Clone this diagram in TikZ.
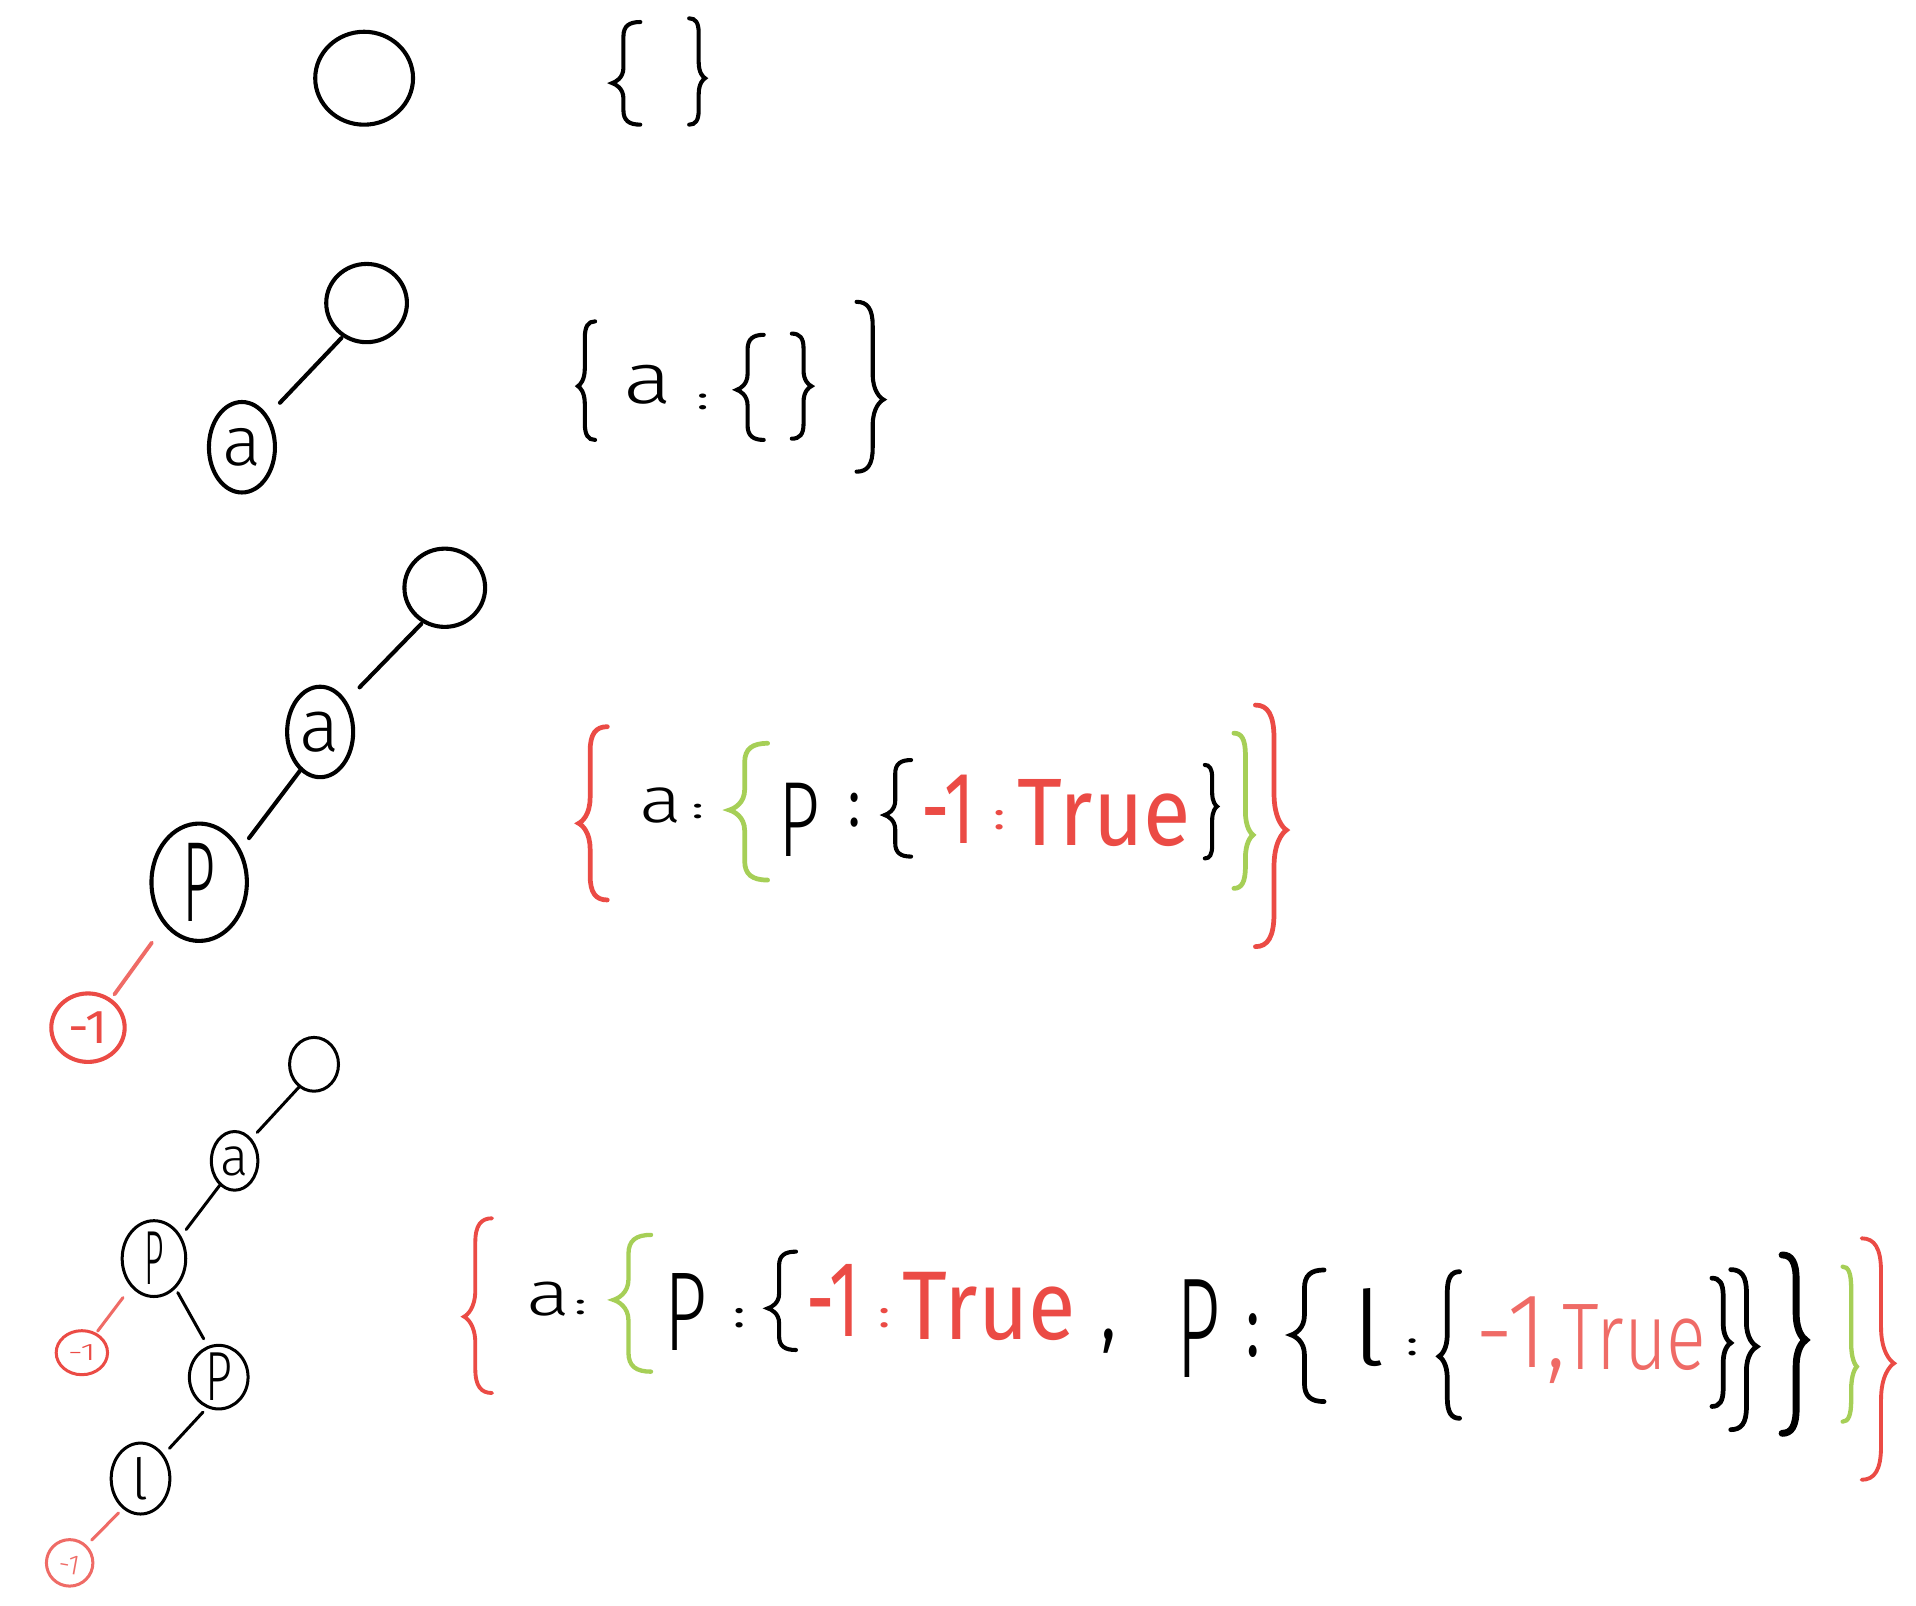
\documentclass[tikz,border=0pt]{standalone}
\usepackage{fontspec}
\setmainfont{Fira Sans Light}
\newfontfamily\rf{Fira Sans}
\usetikzlibrary{shapes.geometric}
\definecolor{hred}{HTML}{EB4B45}
\definecolor{hlred}{HTML}{EF6B66}
\definecolor{hgreen}{HTML}{A6CF57}
\newlength\pxu \setlength\pxu{0.01cm}
\newcommand\tx[3]{\resizebox*{#1\pxu}{#2\pxu}{#3}}
\newcommand\ctx[3]{\makebox[0pt]{\raisebox{-0.5\height}[0pt][0pt]{\resizebox*{#1\pxu}{#2\pxu}{#3}}}}
% brace: style, tip x, top y, tip y, bottom y, signed width (+ for {, - for })
\newcommand\hbrace[6]{%
 \pgfmathsetmacro\brLen{#5-#3}%
 \pgfmathsetmacro\brXs{#2+0.4*#6}%
 \pgfmathsetmacro\brXc{#2+0.6*#6}%
 \pgfmathsetmacro\brXt{#2+0.12*#6}%
 \pgfmathsetmacro\brXe{#2+#6}%
 \pgfmathsetmacro\brYa{#3+0.04*\brLen}%
 \pgfmathsetmacro\brYb{#3+0.14*\brLen}%
 \pgfmathsetmacro\brYc{#4-0.15*\brLen}%
 \pgfmathsetmacro\brYd{#4-0.05*\brLen}%
 \pgfmathsetmacro\brYe{#4-0.01*\brLen}%
 \pgfmathsetmacro\brYf{#4+0.01*\brLen}%
 \pgfmathsetmacro\brYg{#4+0.05*\brLen}%
 \pgfmathsetmacro\brYh{#4+0.15*\brLen}%
 \pgfmathsetmacro\brYi{#5-0.14*\brLen}%
 \pgfmathsetmacro\brYj{#5-0.04*\brLen}%
 \draw[#1] (\brXe,#3) .. controls (\brXc,#3) and (\brXs,\brYa) .. (\brXs,\brYb)
   -- (\brXs,\brYc) .. controls (\brXs,\brYd) and (\brXt,\brYe) .. (#2,#4)
   .. controls (\brXt,\brYf) and (\brXs,\brYg) .. (\brXs,\brYh)
   -- (\brXs,\brYi) .. controls (\brXs,\brYj) and (\brXc,#5) .. (\brXe,#5);}
\newcommand\brL[6]{\hbrace{#1}{#2}{#3}{#4}{#5}{#6}}
\newcommand\brR[6]{\hbrace{#1}{#2}{#3}{#4}{#5}{-#6}}
\tikzset{
 tnode/.style={draw, ellipse, inner sep=0pt, outer sep=0pt, line width=0.95pt},
 tnodes/.style={draw, ellipse, inner sep=0pt, outer sep=0pt, line width=0.7pt},
 sz/.style 2 args={minimum width={#1*0.02cm}, minimum height={#2*0.02cm}},
 sh/.style 2 args={shorten <={#1*0.01cm}, shorten >={#2*0.01cm}},
 edge/.style={line width=0.95pt, line cap=round},
 edges/.style={line width=0.7pt, line cap=round},
 redge/.style={line width=0.8pt, line cap=round, hlred},
 txt/.style={inner sep=0pt, outer sep=0pt},
 bk/.style={line width=0.95pt, line cap=round},
 rb/.style={line width=1.1pt, line cap=round, hred},
 gb/.style={line width=1.1pt, line cap=round, hgreen},
}
\begin{document}
\begin{tikzpicture}[x=0.01cm, y=-0.01cm]
\useasboundingbox (0,0) rectangle (1568,1314);
\fill[white] (0,0) rectangle (1568,1314);

% ---------- row 1 ----------
\node[tnode, sz={40}{38}] (r1) at (298,64) {};
\brL{bk}{501}{18}{68}{102}{23}
\brR{bk}{577}{15}{64}{102}{13}

% ---------- row 2 ----------
\node[tnode, sz={33}{32}] (r2) at (300,248) {};
\node[tnode, sz={27}{37}] (a2) at (198,366) {\ctx{32}{31}{a}};
\draw[edge, sh={3}{16}] (r2.235) -- (a2.51);
\brL{bk}{473}{263}{316}{360}{14}
\node[txt] (t2a) at (530.5,315) {\tx{40}{32}{a}};
\node[txt] (t2c) at (575,329) {\tx{10}{13}{\rf :}};
\brL{bk}{603}{274}{319}{360}{22}
\brR{bk}{664}{273}{316}{359}{16}
\brR{bk}{723}{247}{327}{386}{22}

% ---------- row 3 ----------
\node[tnode, sz={33}{32}] (r3) at (364,481) {};
\node[tnode, sz={27}{37}] (a3) at (262,599) {\ctx{33}{33}{a}};
\node[tnode, sz={39}{48}] (p3) at (163,722) {\ctx{27}{64}{P}};
\node[tnode, draw=hred, sz={30}{28}] (m3) at (72,841) {\ctx{32}{26}{\color{hred}\rf -1}};
\draw[edge, sh={3}{17}] (r3.238) -- (a3.50);
\draw[edge, sh={0}{13}] (a3.243) -- (p3.38);
\draw[redge, line width=0.9pt, sh={19}{6}] (p3.231) -- (m3.51);

\brL{rb}{473.6}{594.7}{673.8}{736.5}{23.4}
\node[txt] (t3a) at (541,659.5) {\tx{35}{29}{a}};
\node[txt] (t3c1) at (571,664) {\tx{10}{12}{\rf :}};
\brL{gb}{596.9}{608.3}{662.9}{720.2}{31.3}
\node[txt] (t3p) at (654.5,671) {\tx{34}{60}{P}};
\node[txt] (t3c2) at (699,663) {\tx{10}{28}{\rf :}};
\brL{bk}{724}{622}{667}{701}{21.6}
\node[txt, text=hred] (t3m) at (776,662) {\tx{44}{56}{\rf -1}};
\node[txt, text=hred] (t3c3) at (818,671) {\tx{10}{16}{\rf :}};
\node[txt, text=hred] (t3t) at (903.5,665.5) {\tx{142}{55}{\rf True}};
\brR{bk}{996}{626}{660}{702.5}{10}
\brR{gb}{1025.5}{600}{683.3}{727}{15.7}
\brR{rb}{1052.8}{577}{679.3}{774.7}{25.4}

% ---------- row 4 ----------
\node[tnodes, sz={20}{22}] (r4) at (257,871) {};
\node[tnodes, sz={19}{24}] (a4) at (192,950) {\ctx{23}{24}{a}};
\node[tnodes, sz={26}{31}] (p4a) at (126,1030) {\ctx{16}{43}{P}};
\node[tnodes, draw=hred, sz={21}{18}] (m4a) at (67,1107) {\ctx{23}{13}{\color{hred}-1}};
\node[tnodes, sz={24}{26}] (p4b) at (179,1127) {\ctx{22}{39}{P}};
\node[tnodes, sz={24}{29}] (l4) at (115,1210) {\ctx{14}{35}{l}};
\node[tnodes, draw=hlred, sz={19}{19}] (m4b) at (57,1279) {\ctx{20}{18}{\rotatebox{-10}{\color{hlred}-1}}};
\draw[edges, sh={1}{8}] (r4.237) -- (a4.53);
\draw[edges, sh={1}{8}] (a4.239) -- (p4a.39);
\draw[redge, line width=0.7pt, sh={12}{3}] (p4a.231) -- (m4a.54);
\draw[edges, sh={5}{8}] (p4a.306) -- (p4b.109);
\draw[edges, sh={6}{8}] (p4b.250) -- (l4.46);
\draw[redge, line width=0.7pt, sh={6}{7}] (l4.240) -- (m4b.46);

\brL{rb, line width=0.9pt}{379.8}{997}{1077.5}{1140}{22.9}
\node[txt] (t4a) at (448.5,1063) {\tx{36}{28}{a}};
\node[txt] (t4c1) at (475,1070) {\tx{10}{12}{\rf :}};
\brL{gb, line width=1pt}{502}{1010.6}{1063.8}{1122.5}{30.8}
\node[txt] (t4p1) at (561,1073.5) {\tx{35}{63}{P}};
\node[txt] (t4c2) at (605,1079) {\tx{10}{16}{\rf :}};
\brL{bk}{628.4}{1024.3}{1070.7}{1104.8}{23}
\node[txt, text=hred] (t4m1) at (682,1064.5) {\tx{44}{59}{\rf -1}};
\node[txt, text=hred] (t4c3) at (724,1079) {\tx{10}{16}{\rf :}};
\node[txt, text=hred] (t4t1) at (809.5,1069) {\tx{142}{56}{\rf True}};
\node[txt] (t4k) at (907.5,1097.5) {\tx{12}{20}{\rf ,}};
\node[txt] (t4p2) at (980.5,1087) {\tx{36}{80}{P}};
\node[txt] (t4c4) at (1026,1093) {\tx{11}{36}{\rf :}};
\brL{bk, line width=1.1pt}{1056.8}{1039.3}{1092.5}{1147}{26.8}
\node[txt] (t4l) at (1120,1086) {\tx{28}{64}{l}};
\node[txt] (t4c5) at (1156,1103) {\tx{10}{14}{\rf :}};
\brL{bk, line width=1.1pt}{1177.7}{1040.7}{1110}{1160.7}{16.8}
\node[txt, text=hlred] (t4m2) at (1244.5,1096.5) {\tx{74}{71}{-1,}};
\node[txt, text=hlred] (t4t2) at (1337.5,1095) {\tx{118}{54}{True}};
\brR{bk, line width=1.1pt}{1416.4}{1046}{1099}{1151}{15.4}
\brR{bk, line width=1.1pt}{1437.8}{1039}{1102}{1170}{21.4}
\brR{bk, line width=1.6pt}{1477.6}{1027}{1096.6}{1173}{19.2}
\brR{gb, line width=1pt}{1519.6}{1036.6}{1118.4}{1163.4}{11.6}
\brR{rb, line width=0.9pt}{1550}{1013.4}{1115.7}{1211}{26.5}
\end{tikzpicture}
\end{document}
